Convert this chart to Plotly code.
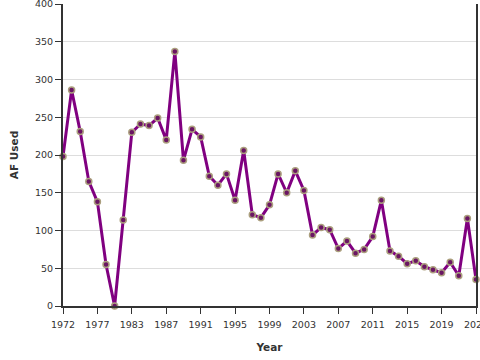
import plotly.graph_objects as go

years = [1972, 1973, 1974, 1975, 1977, 1978, 1980, 1981, 1983, 1984,
         1985, 1986, 1987, 1988, 1989, 1990, 1991, 1992, 1993, 1994,
         1995, 1996, 1997, 1998, 1999, 2000, 2001, 2002, 2003, 2004,
         2005, 2006, 2007, 2008, 2009, 2010, 2011, 2012, 2013, 2014,
         2015, 2016, 2017, 2018, 2019, 2020, 2021, 2022, 2023]
af_used = [198, 286, 231, 165, 138, 55, 0, 114, 230, 241,
           239, 249, 220, 337, 193, 234, 224, 172, 160, 175,
           140, 206, 121, 117, 134, 175, 150, 179, 153, 94,
           104, 101, 76, 86, 70, 75, 92, 140, 73, 66,
           56, 60, 52, 48, 44, 58, 40, 116, 35]
tick_years = [1972, 1977, 1983, 1987, 1991, 1995, 1999, 2003, 2007,
              2011, 2015, 2019, 2023]

cats = [str(y) for y in years]

fig = go.Figure(go.Scatter(
    x=cats, y=af_used, mode="lines+markers",
    line=dict(color="#800080", width=3),
    marker=dict(size=6, color="#6a1563",
                line=dict(color="#ab9f7e", width=1.5)),
    cliponaxis=False,
))

font = dict(family="DejaVu Sans", size=9.5, color="#333333")
title_font = dict(family="DejaVu Sans", size=10.5, color="#333333")
fig.update_layout(
    width=480, height=360,
    margin=dict(l=63, r=4, t=4, b=54),
    paper_bgcolor="white", plot_bgcolor="white",
    showlegend=False,
    font=font,
    xaxis=dict(
        type="category", range=[0, len(cats) - 1], automargin=False,
        tickvals=[str(y) for y in tick_years],
        ticktext=[str(y) for y in tick_years],
        showgrid=False, zeroline=False,
        showline=True, linecolor="#333333", linewidth=2,
        ticks="outside", ticklen=6, tickwidth=1, tickcolor="#333333",
        tickfont=font, ticklabeloverflow="allow", ticklabelstandoff=3,
        title=dict(text="<b>Year</b>", font=title_font, standoff=14),
    ),
    yaxis=dict(
        range=[0, 400], automargin=False,
        tickvals=[0, 50, 100, 150, 200, 250, 300, 350, 400],
        showgrid=True, gridcolor="#dddddd", gridwidth=1, zeroline=False,
        showline=True, linecolor="#333333", linewidth=2, mirror=True,
        ticks="outside", ticklen=6, tickwidth=1, tickcolor="#333333",
        tickfont=font, ticklabeloverflow="allow",
        title=dict(text="<b>AF Used</b>", font=title_font, standoff=14),
    ),
)

fig.write_html("out.html", config={"displayModeBar": False},
               post_script="document.body.style.margin='0';")
